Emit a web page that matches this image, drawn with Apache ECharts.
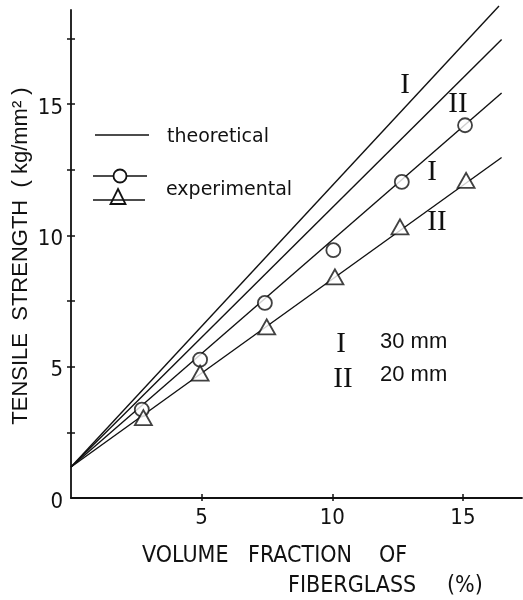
<!DOCTYPE html>
<html>
<head>
<meta charset="utf-8">
<script src="https://cdn.jsdelivr.net/npm/echarts@6/dist/echarts.min.js"></script>
<style>
html,body{margin:0;padding:0;background:#fff;}
#chart{width:523px;height:600px;}
</style>
</head>
<body>
<div id="chart"></div>
<script>
// ---- data ----
var xTickValues = [5, 10, 15];
var yTickValues = [2.5, 5, 7.5, 10, 12.5, 15, 17.5];
var yLabelValues = [0, 5, 10, 15];

// experimental points (30 mm = circles, 20 mm = triangles)
var exp30 = [[2.71, 3.37], [4.94, 5.27], [7.42, 7.43], [10.04, 9.44], [12.66, 12.04], [15.08, 14.2]];
var exp20 = [[2.77, 3.06], [4.94, 4.76], [7.49, 6.52], [10.1, 8.42], [12.59, 10.33], [15.12, 12.1]];

// straight lines (start and end points)
var theo30Line = [[0, 1.18], [16.38, 18.74]];
var theo20Line = [[0, 1.18], [16.48, 17.47]];
var exp30Line = [[0, 1.18], [16.48, 15.43]];
var exp20Line = [[0, 1.18], [16.48, 12.97]];

var xMin = 0, xMax = 17.26;
var yMin = 0, yMax = 18.59;

var chart = echarts.init(document.getElementById('chart'), null, {renderer: 'canvas'});

var black = '#111';
var narrow = '"Liberation Sans Narrow", "DejaVu Sans Condensed", "Liberation Sans"';

function lineSeries(data) {
  return {
    type: 'line', data: data, showSymbol: false, symbol: 'none',
    clip: false, silent: true,
    lineStyle: {color: black, width: 1.4}, z: 2
  };
}

var option = {
  animation: false,
  backgroundColor: '#fff',
  grid: {left: 71, right: 1, top: 10, bottom: 102, containLabel: false},
  xAxis: [{
    type: 'value', min: xMin, max: xMax, interval: 5,
    axisLine: {show: true, lineStyle: {color: black, width: 1.8}},
    axisTick: {show: true, inside: false, length: 3, customValues: xTickValues, lineStyle: {color: black, width: 1.5}},
    axisLabel: {show: true, customValues: xTickValues, color: black, fontFamily: narrow, fontSize: 22, margin: 9},
    splitLine: {show: false}
  }, {
    type: 'value', min: xMin, max: xMax, interval: 5, position: 'bottom',
    axisLine: {show: false},
    axisTick: {show: true, inside: true, length: 4, customValues: xTickValues, lineStyle: {color: black, width: 1.5}},
    axisLabel: {show: false},
    splitLine: {show: false}
  }],
  yAxis: [{
    type: 'value', min: yMin, max: yMax, interval: 2.5,
    axisLine: {show: true, lineStyle: {color: black, width: 1.8}},
    axisTick: {show: true, inside: false, length: 4, customValues: yTickValues, lineStyle: {color: black, width: 1.5}},
    axisLabel: {show: true, customValues: yLabelValues, color: black, fontFamily: narrow, fontSize: 22, margin: 8, verticalAlign: 'top', lineHeight: 8},
    splitLine: {show: false}
  }, {
    type: 'value', min: yMin, max: yMax, interval: 2.5, position: 'left',
    axisLine: {show: false},
    axisTick: {show: true, inside: true, length: 4, customValues: yTickValues, lineStyle: {color: black, width: 1.5}},
    axisLabel: {show: false},
    splitLine: {show: false}
  }],
  series: [
    lineSeries(theo30Line),
    lineSeries(theo20Line),
    lineSeries(exp30Line),
    lineSeries(exp20Line),
    {
      type: 'scatter', data: exp30, symbol: 'circle', symbolSize: 14, silent: true, z: 5,
      itemStyle: {color: '#fff', borderColor: black, borderWidth: 1.8}
    },
    {
      type: 'scatter', data: exp20, symbol: 'triangle', symbolSize: [17, 15], silent: true, z: 5,
      itemStyle: {color: '#fff', borderColor: black, borderWidth: 1.8}
    }
  ],
  graphic: [
    // legend
    {type: 'line', shape: {x1: 95, y1: 135, x2: 149, y2: 135}, style: {stroke: black, lineWidth: 1.5}},
    {type: 'text', x: 167, y: 137, style: {text: 'theoretical', fontFamily: 'DejaVu Sans', fontSize: 19, fill: black, textAlign: 'left', textVerticalAlign: 'middle'}},
    {type: 'line', shape: {x1: 93, y1: 176, x2: 147, y2: 176}, style: {stroke: black, lineWidth: 1.5}},
    {type: 'circle', shape: {cx: 120, cy: 176, r: 6.5}, style: {fill: '#fff', stroke: black, lineWidth: 1.8}},
    {type: 'line', shape: {x1: 93, y1: 200, x2: 145, y2: 200}, style: {stroke: black, lineWidth: 1.5}},
    {type: 'polygon', shape: {points: [[118, 189], [125.5, 204], [110.5, 204]]}, style: {fill: '#fff', stroke: black, lineWidth: 1.8}},
    {type: 'line', shape: {x1: 112, y1: 200, x2: 124, y2: 200}, style: {stroke: black, lineWidth: 1.5}},
    {type: 'text', x: 166, y: 190, style: {text: 'experimental', fontFamily: 'DejaVu Sans', fontSize: 19, fill: black, textAlign: 'left', textVerticalAlign: 'middle'}},
    // roman numeral annotations
    {type: 'text', x: 405, y: 85, style: {text: 'I', fontFamily: 'Liberation Serif', fontSize: 29, fill: black, textAlign: 'center', textVerticalAlign: 'middle'}},
    {type: 'text', x: 458, y: 104, style: {text: 'II', fontFamily: 'Liberation Serif', fontSize: 29, fill: black, textAlign: 'center', textVerticalAlign: 'middle'}},
    {type: 'text', x: 432, y: 172, style: {text: 'I', fontFamily: 'Liberation Serif', fontSize: 29, fill: black, textAlign: 'center', textVerticalAlign: 'middle'}},
    {type: 'text', x: 437, y: 222, style: {text: 'II', fontFamily: 'Liberation Serif', fontSize: 29, fill: black, textAlign: 'center', textVerticalAlign: 'middle'}},
    {type: 'text', x: 341, y: 344, style: {text: 'I', fontFamily: 'Liberation Serif', fontSize: 29, fill: black, textAlign: 'center', textVerticalAlign: 'middle'}},
    {type: 'text', x: 343, y: 379, style: {text: 'II', fontFamily: 'Liberation Serif', fontSize: 29, fill: black, textAlign: 'center', textVerticalAlign: 'middle'}},
    {type: 'text', x: 380, y: 342, style: {text: '30 mm', fontFamily: 'Liberation Sans', fontSize: 22, fill: black, textAlign: 'left', textVerticalAlign: 'middle'}},
    {type: 'text', x: 380, y: 375, style: {text: '20 mm', fontFamily: 'Liberation Sans', fontSize: 22, fill: black, textAlign: 'left', textVerticalAlign: 'middle'}},
    // axis titles
    {type: 'text', x: 21, y: 256, rotation: Math.PI / 2, style: {text: 'TENSILE  STRENGTH  ( kg/mm\u00B2 )', fontFamily: 'Liberation Sans', fontSize: 22, fill: black, textAlign: 'center', textVerticalAlign: 'middle'}},
    {type: 'text', x: 142, y: 556, style: {text: 'VOLUME', fontFamily: narrow, fontSize: 23, fill: black, textAlign: 'left', textVerticalAlign: 'middle'}},
    {type: 'text', x: 248, y: 556, style: {text: 'FRACTION', fontFamily: narrow, fontSize: 23, fill: black, textAlign: 'left', textVerticalAlign: 'middle'}},
    {type: 'text', x: 379, y: 556, style: {text: 'OF', fontFamily: narrow, fontSize: 23, fill: black, textAlign: 'left', textVerticalAlign: 'middle'}},
    {type: 'text', x: 288, y: 586, style: {text: 'FIBERGLASS', fontFamily: narrow, fontSize: 23, fill: black, textAlign: 'left', textVerticalAlign: 'middle'}},
    {type: 'text', x: 447, y: 586, style: {text: '(%)', fontFamily: narrow, fontSize: 23, fill: black, textAlign: 'left', textVerticalAlign: 'middle'}}
  ]
};

chart.setOption(option);
</script>
</body>
</html>
